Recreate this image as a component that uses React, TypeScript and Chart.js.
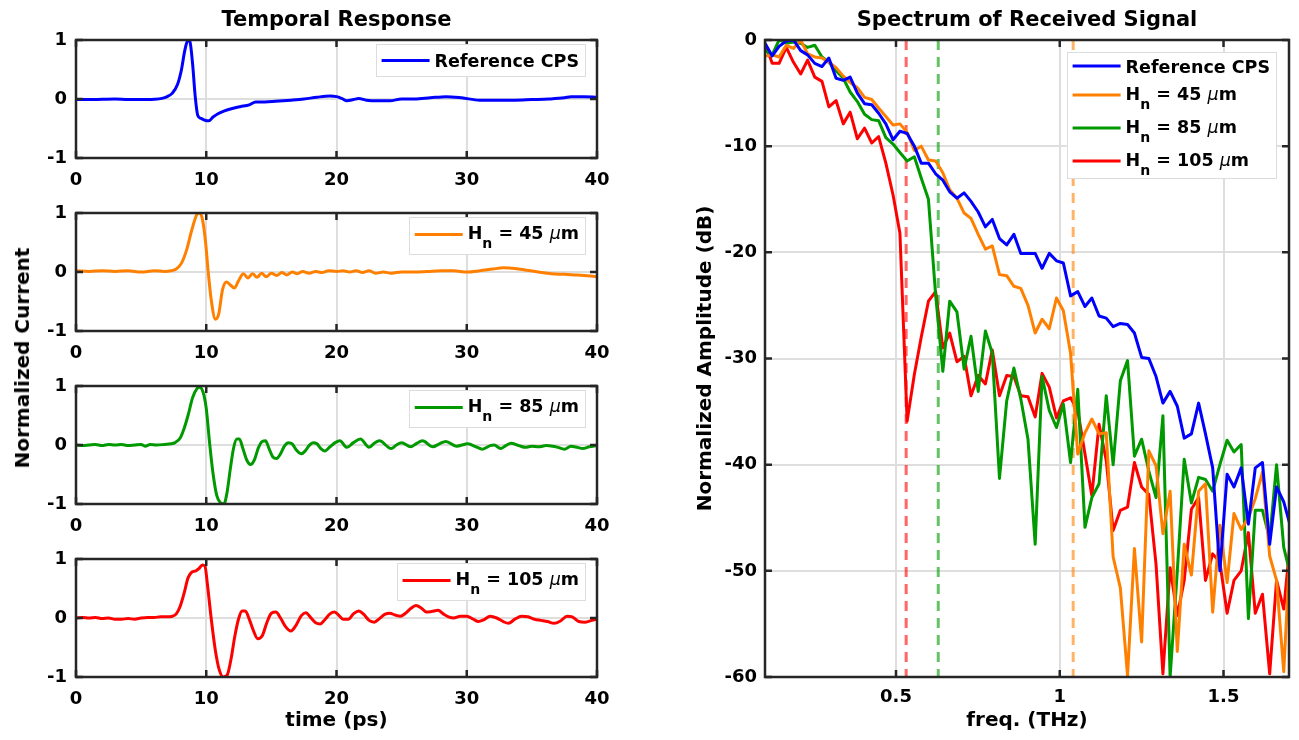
import React, { useEffect, useRef } from 'react';
import { Chart, registerables } from 'chart.js';

Chart.register(...registerables);

const FONT = '"DejaVu Sans", "Liberation Sans", Arial, sans-serif';

// ---------------- Temporal response (time in ps, normalized current) ----------------
const refTime = [0, 1, 2, 3, 4, 5, 6, 6.6, 7.0, 7.4, 7.8, 8.1, 8.35, 8.6, 8.75, 8.95, 9.15, 9.35, 9.6, 9.9, 10.2, 10.5, 10.9, 11.4, 12, 12.6, 13.3, 13.8, 14.5, 15.3, 16.5, 17.5, 18.5, 19.5, 20, 20.4, 20.8, 21.3, 21.7, 22.3, 23.2, 24.1, 25, 26, 27.2, 28.4, 29.6, 31, 32.5, 33.7, 35, 36.3, 37.5, 38, 39, 40];
const refCurrent = [-0.01, -0.01, -0.005, 0, -0.01, -0.01, -0.005, 0.01, 0.04, 0.1, 0.25, 0.5, 0.82, 1.0, 0.97, 0.6, 0.05, -0.28, -0.33, -0.36, -0.37, -0.31, -0.25, -0.2, -0.16, -0.13, -0.1, -0.05, -0.05, -0.04, -0.02, 0.0, 0.03, 0.05, 0.04, 0.01, -0.03, -0.01, 0.01, -0.02, -0.03, -0.03, 0.0, 0.0, 0.02, 0.04, 0.02, -0.02, -0.02, -0.02, -0.01, 0.0, 0.02, 0.04, 0.04, 0.03];

const h45Time = [0, 1, 2, 3, 4, 5, 6, 6.8, 7.3, 7.7, 8.1, 8.5, 8.9, 9.3, 9.5, 9.7, 9.95, 10.15, 10.4, 10.7, 10.95, 11.25, 11.55, 11.85, 12.15, 12.5, 12.85, 13.2, 13.55, 13.9, 14.25, 14.6, 15, 15.4, 15.8, 16.2, 16.6, 17, 17.4, 17.9, 18.4, 18.9, 19.4, 20, 20.5, 21, 21.5, 22, 22.5, 23, 23.6, 24.2, 25, 26, 27, 28, 29, 30, 31, 32, 32.8, 33.7, 34.6, 35.5, 36.5, 37.5, 38.3, 39, 40];
const h45Current = [0.02, 0.01, 0.02, 0.01, 0.02, 0.0, 0.02, 0.01, 0.02, 0.05, 0.15, 0.38, 0.72, 0.98, 1.0, 0.9, 0.5, 0.0, -0.5, -0.8, -0.72, -0.3, -0.17, -0.22, -0.27, -0.14, -0.03, -0.1, -0.03, -0.09, -0.02, -0.08, -0.02, -0.06, -0.01, -0.05, 0.0, -0.03, 0.01, -0.02, 0.01, -0.01, 0.02, 0.01, 0.02, 0.0, 0.02, -0.01, 0.02, -0.02, 0.0, -0.02, 0.0, 0.0, 0.01, 0.02, 0.02, 0.0, 0.02, 0.05, 0.07, 0.06, 0.03, 0.0, -0.03, -0.04, -0.05, -0.06, -0.08];

const h85Time = [0, 0.5, 1, 1.5, 2, 2.5, 3, 3.5, 4, 4.5, 5, 5.3, 5.7, 6.2, 6.8, 7.3, 7.6, 8.0, 8.3, 8.6, 8.95, 9.3, 9.5, 9.75, 10.0, 10.25, 10.5, 10.8, 11.1, 11.35, 11.6, 11.85, 12.1, 12.35, 12.55, 12.8, 13.1, 13.4, 13.7, 14.0, 14.3, 14.55, 14.8, 15.1, 15.4, 15.7, 16.0, 16.3, 16.6, 16.9, 17.3, 17.6, 17.9, 18.2, 18.5, 18.8, 19.1, 19.5, 19.9, 20.26, 20.8, 21.3, 21.84, 22.5, 22.9, 23.3, 24.2, 24.6, 25.0, 25.7, 26.1, 26.6, 27.4, 27.9, 28.4, 29.2, 30.1, 30.7, 31.2, 31.8, 32.1, 32.6, 33.0, 33.4, 34.0, 34.5, 35.0, 35.5, 36.1, 36.6, 37.0, 37.5, 38.0, 38.5, 38.9, 39.4, 40];
const h85Current = [0.0, -0.01, 0.0, 0.01, -0.01, 0.01, 0.0, 0.01, -0.01, 0.0, 0.01, -0.02, 0.01, 0.0, 0.01, 0.02, 0.04, 0.12, 0.28, 0.5, 0.8, 0.96, 0.98, 0.9, 0.62, 0.05, -0.45, -0.85, -0.98, -1.0, -0.8, -0.4, -0.05, 0.1, 0.1, -0.05, -0.25, -0.33, -0.25, -0.05, 0.06, 0.07, -0.05, -0.2, -0.23, -0.15, -0.02, 0.04, 0.02, -0.08, -0.15, -0.1, -0.01, 0.04, 0.02, -0.06, -0.1, -0.03, 0.04, 0.07, -0.04, 0.04, 0.1, -0.04, 0.03, 0.07, -0.06, 0.0, 0.04, -0.03, 0.02, 0.07, -0.03, 0.02, 0.06, -0.02, 0.02, -0.03, -0.07, -0.01, 0.0, -0.06, -0.01, 0.03, -0.01, -0.04, -0.02, -0.03, -0.01, -0.02, -0.04, -0.07, -0.02, -0.04, -0.06, -0.03, -0.01];

const h105Time = [0, 0.5, 1, 1.5, 2, 2.5, 3, 3.5, 4, 4.5, 5, 5.5, 6, 6.5, 7, 7.4, 7.7, 8.0, 8.3, 8.6, 8.9, 9.2, 9.45, 9.7, 9.9, 10.1, 10.35, 10.7, 11.0, 11.3, 11.6, 11.9, 12.2, 12.5, 12.75, 13.0, 13.3, 13.6, 13.95, 14.3, 14.65, 15.0, 15.35, 15.7, 16.1, 16.5, 16.9, 17.3, 17.65, 18.0, 18.4, 18.75, 19.1, 19.5, 19.85, 20.2, 20.5, 20.9, 21.3, 21.7, 22.1, 22.5, 22.9, 23.3, 23.7, 24.1, 24.5, 24.9, 25.3, 25.7, 26.1, 26.5, 26.9, 27.3, 27.8, 28.2, 28.6, 29.0, 29.5, 30.0, 30.5, 30.9, 31.3, 31.8, 32.3, 32.8, 33.2, 33.7, 34.2, 34.7, 35.2, 35.7, 36.2, 36.7, 37.2, 37.7, 38.1, 38.6, 39.1, 39.6, 40];
const h105Current = [0.0, 0.01, 0.0, 0.01, -0.01, 0.0, -0.02, -0.02, -0.01, -0.02, 0.0, 0.01, 0.01, 0.02, 0.02, 0.03, 0.07, 0.2, 0.42, 0.68, 0.78, 0.8, 0.84, 0.9, 0.88, 0.55, 0.05, -0.55, -0.88, -1.0, -0.97, -0.7, -0.3, 0.0, 0.12, 0.12, -0.02, -0.2, -0.35, -0.3, -0.08, 0.08, 0.1, 0.0, -0.15, -0.22, -0.12, 0.04, 0.09, 0.01, -0.08, -0.1, -0.03, 0.07, 0.1, 0.04, -0.02, -0.02, 0.07, 0.12, 0.06, -0.04, -0.07, -0.01, 0.06, 0.08, 0.05, 0.03, 0.08, 0.16, 0.21, 0.17, 0.1, 0.11, 0.13, 0.07, 0.02, 0.0, 0.03, 0.03, -0.02, -0.06, -0.03, 0.03, 0.0, -0.06, -0.09, -0.02, 0.03, 0.02, -0.02, -0.04, -0.06, -0.09, -0.05, 0.03, 0.02, -0.06, -0.07, -0.04, -0.02];

const timeRange = [0, 40];
const timeTicks = [0, 10, 20, 30, 40];
const currentRange = [-1, 1];
const currentTicks = [-1, 0, 1];

// ---------------- Spectrum (freq in THz, amplitude in dB) ----------------
const freqTHz = [0.100, 0.122, 0.143, 0.165, 0.187, 0.209, 0.230, 0.252, 0.274, 0.295, 0.317, 0.339, 0.360, 0.382, 0.404, 0.426, 0.447, 0.469, 0.491, 0.512, 0.534, 0.556, 0.577, 0.599, 0.621, 0.643, 0.664, 0.686, 0.708, 0.729, 0.751, 0.773, 0.794, 0.816, 0.838, 0.860, 0.881, 0.903, 0.925, 0.946, 0.968, 0.990, 1.011, 1.033, 1.055, 1.077, 1.098, 1.120, 1.142, 1.163, 1.185, 1.207, 1.228, 1.250, 1.272, 1.294, 1.315, 1.337, 1.359, 1.380, 1.402, 1.424, 1.445, 1.467, 1.489, 1.511, 1.532, 1.554, 1.576, 1.597, 1.619, 1.641, 1.662, 1.684, 1.706];
const refSpectrum = [-0.3, -1.5, -0.6, -0.1, 0.0, -1.0, -1.4, -2.2, -2.5, -1.7, -3.6, -3.8, -3.5, -5.0, -6.0, -6.1, -6.9, -7.9, -9.4, -8.6, -8.8, -10.0, -11.6, -11.6, -12.6, -13.2, -14.3, -14.9, -14.4, -15.2, -16.2, -17.6, -16.9, -18.7, -19.3, -18.3, -20.1, -20.1, -20.1, -21.5, -20.1, -20.8, -21.0, -24.1, -23.7, -25.1, -24.3, -26.0, -26.2, -27.0, -26.7, -26.8, -27.6, -29.9, -30.0, -31.7, -34.2, -33.1, -34.5, -37.5, -37.1, -34.2, -37.1, -40.3, -50.0, -40.9, -42.1, -40.3, -45.6, -40.3, -39.8, -47.5, -42.1, -43.5, -46.0];
const h45Spectrum = [-1.5, -1.4, -1.6, -0.5, -0.8, 0.0, -1.3, -1.6, -1.7, -2.1, -2.6, -3.4, -4.0, -4.5, -5.4, -5.6, -6.4, -7.2, -8.0, -7.9, -8.7, -10.4, -10.0, -11.3, -11.4, -12.5, -14.1, -14.9, -16.3, -16.8, -18.3, -19.7, -19.4, -22.1, -22.2, -23.2, -23.4, -25.0, -27.6, -26.3, -27.2, -24.3, -25.5, -29.5, -39.0, -37.0, -35.7, -37.1, -37.0, -48.7, -51.6, -59.9, -47.9, -56.7, -38.7, -40.1, -46.5, -42.5, -57.6, -47.5, -50.4, -42.5, -41.8, -53.9, -45.7, -51.1, -44.6, -46.1, -45.0, -43.2, -40.7, -48.6, -50.9, -59.5, -46.2];
const h85Spectrum = [-1.0, -1.4, 0.0, -0.3, -0.2, -0.3, -0.7, -0.5, -1.6, -2.1, -2.9, -3.6, -4.9, -5.8, -7.0, -7.5, -7.6, -9.2, -9.8, -10.6, -11.4, -11.0, -13.0, -15.0, -24.0, -31.2, -24.6, -25.6, -31.0, -27.9, -33.1, -27.4, -29.5, -41.3, -34.0, -30.9, -33.8, -37.6, -47.5, -31.7, -34.9, -36.5, -34.3, -39.8, -32.9, -45.9, -43.1, -41.8, -33.5, -40.0, -32.1, -30.2, -39.2, -37.6, -40.6, -43.1, -35.4, -60.0, -50.0, -39.5, -43.6, -41.2, -41.4, -42.5, -40.0, -37.7, -38.8, -38.1, -54.5, -44.3, -44.3, -47.0, -40.0, -47.8, -50.6];
const h105Spectrum = [-0.3, -2.2, -2.2, -0.7, -2.1, -3.2, -1.9, -3.5, -3.9, -6.3, -5.7, -7.9, -6.8, -9.3, -8.3, -9.7, -9.1, -11.6, -14.6, -18.2, -35.9, -31.5, -28.0, -24.6, -23.7, -29.0, -27.6, -30.3, -29.8, -33.5, -31.6, -32.4, -29.2, -33.5, -31.6, -31.7, -33.5, -33.6, -35.5, -31.4, -32.7, -35.6, -34.0, -33.7, -34.9, -39.0, -42.9, -36.2, -39.6, -46.2, -44.3, -44.0, -39.8, -42.1, -42.8, -49.4, -59.7, -49.7, -54.2, -50.9, -44.2, -43.1, -50.9, -48.4, -49.2, -54.0, -50.9, -50.0, -46.4, -54.0, -52.2, -59.7, -50.9, -53.6, -46.5];
// cut-off frequencies (dashed markers): 105 um, 85 um, 45 um
const cutoffFreqs = [0.531, 0.629, 1.041];

const freqRange = [0.1, 1.7];
const freqTicks = [0.5, 1, 1.5];
const dbRange = [-60, 0];
const dbTicks = [-60, -50, -40, -30, -20, -10, 0];

// ---------------- styles ----------------
const BLUE = '#0000ff';
const ORANGE = '#ff8000';
const GREEN = '#009900';
const RED = '#ff0000';
const CUTOFF_COLORS = ['rgba(255,0,0,0.6)', 'rgba(0,153,0,0.6)', 'rgba(255,128,0,0.6)'];
const GRID = '#dedede';
const AXIS = '#262626';

type Part = { t: string; s?: 'sub' | 'it' };
type Row = { color: string; parts: Part[] };

const hLabel = (v: string): Part[] => [{ t: 'H' }, { t: 'n', s: 'sub' }, { t: ` = ${v} ` }, { t: 'μ', s: 'it' }, { t: 'm' }];
const ROW_REF: Row = { color: BLUE, parts: [{ t: 'Reference CPS' }] };
const ROW_45: Row = { color: ORANGE, parts: hLabel('45') };
const ROW_85: Row = { color: GREEN, parts: hLabel('85') };
const ROW_105: Row = { color: RED, parts: hLabel('105') };

const LEG_SIZE = 17.5;

function partFont(p: Part, size: number) {
  if (p.s === 'sub') return `bold ${size * 0.8}px ${FONT}`;
  if (p.s === 'it') return `italic ${size}px ${FONT}`;
  return `bold ${size}px ${FONT}`;
}

function drawLegend(ctx: CanvasRenderingContext2D, area: any, rows: Row[], cfg: { right: number; top: number; extra: number }) {
  const size = LEG_SIZE;
  ctx.save();
  const widths = rows.map((r) =>
    r.parts.reduce((w, p) => {
      ctx.font = partFont(p, size);
      return w + ctx.measureText(p.t).width;
    }, 0)
  );
  const textW = Math.max(...widths);
  const padL = 6, lineLen = 48, gap = 5, padR = 7;
  const boxW = padL + lineLen + gap + textW + padR;
  const right = area.right - cfg.right;
  const left = right - boxW;
  const top = area.top + cfg.top;
  let y = top + cfg.extra;
  const centers: { c: number; sub: boolean }[] = [];
  rows.forEach((r) => {
    const sub = r.parts.some((p) => p.s === 'sub');
    y += sub ? 15 : 14;
    centers.push({ c: y, sub });
    y += sub ? 18 : 14;
  });
  const bottom = y + cfg.extra;
  ctx.fillStyle = '#ffffff';
  ctx.fillRect(left, top, boxW, bottom - top);
  ctx.strokeStyle = '#dcdcdc';
  ctx.lineWidth = 1;
  ctx.strokeRect(Math.round(left) + 0.5, Math.round(top) + 0.5, Math.round(boxW) - 1, Math.round(bottom - top) - 1);
  rows.forEach((r, i) => {
    const { c, sub } = centers[i];
    ctx.strokeStyle = r.color;
    ctx.lineWidth = 3;
    ctx.beginPath();
    ctx.moveTo(left + padL, c);
    ctx.lineTo(left + padL + lineLen, c);
    ctx.stroke();
    let x = left + padL + lineLen + gap;
    const base = c + (sub ? 4.5 : 6.5);
    ctx.fillStyle = '#000000';
    ctx.textAlign = 'left';
    ctx.textBaseline = 'alphabetic';
    r.parts.forEach((p) => {
      ctx.font = partFont(p, size);
      ctx.fillText(p.t, x, p.s === 'sub' ? base + 9 : base);
      x += ctx.measureText(p.t).width;
    });
  });
  ctx.restore();
}

function matlabAxes(rows: Row[], legendCfg: { right: number; top: number; extra: number }) {
  return {
    id: 'matlabAxes',
    afterDatasetsDraw(chart: any) {
      const { ctx, chartArea: a, scales } = chart;
      const L = 7;
      ctx.save();
      ctx.strokeStyle = AXIS;
      ctx.lineWidth = 2.5;
      ctx.beginPath();
      for (const t of scales.x.ticks) {
        const px = scales.x.getPixelForValue(t.value);
        ctx.moveTo(px, a.bottom);
        ctx.lineTo(px, a.bottom - L);
        ctx.moveTo(px, a.top);
        ctx.lineTo(px, a.top + L);
      }
      for (const t of scales.y.ticks) {
        const py = scales.y.getPixelForValue(t.value);
        ctx.moveTo(a.left, py);
        ctx.lineTo(a.left + L, py);
        ctx.moveTo(a.right, py);
        ctx.lineTo(a.right - L, py);
      }
      ctx.stroke();
      ctx.strokeRect(a.left, a.top, a.right - a.left, a.bottom - a.top);
      ctx.restore();
    },
    afterDraw(chart: any) {
      drawLegend(chart.ctx, chart.chartArea, rows, legendCfg);
    },
  };
}

const tickFont = { family: FONT, size: 18, weight: 'bold' as const };
const labelFont = { family: FONT, size: 20, weight: 'bold' as const };
const titleFont = { family: FONT, size: 21, weight: 'bold' as const, lineHeight: 1 };

function toPoints(xs: number[], ys: number[]) {
  return xs.map((x, i) => ({ x, y: ys[i] }));
}

// Canvas placement (page pixels)
const LEFT_CANVAS = [
  { top: 2, height: 186 },
  { top: 193, height: 168 },
  { top: 366, height: 168 },
  { top: 539, height: 201 },
];
const LEFT_W = 623;
const RIGHT_CANVAS = { left: 660, top: 2, width: 639, height: 738 };

function temporalConfig(
  xs: number[],
  ys: number[],
  color: string,
  row: Row,
  opt: { title?: string; xTitle?: string; xAxisH: number; padTop: number }
): any {
  return {
    type: 'line',
    data: {
      datasets: [
        {
          data: toPoints(xs, ys),
          borderColor: color,
          borderWidth: 3,
          pointRadius: 0,
          cubicInterpolationMode: 'monotone',
          fill: false,
          borderJoinStyle: 'round',
          borderCapStyle: 'round',
        },
      ],
    },
    options: {
      responsive: false,
      animation: false,
      devicePixelRatio: 1,
      events: [],
      layout: { padding: { left: 0, right: 26, top: opt.padTop, bottom: 0 } },
      plugins: {
        legend: { display: false },
        tooltip: { enabled: false },
        title: opt.title
          ? { display: true, text: opt.title, fullSize: false, font: titleFont, color: '#000', padding: { top: 8.5, bottom: 8.5 } }
          : { display: false },
      },
      scales: {
        x: {
          type: 'linear',
          min: timeRange[0],
          max: timeRange[1],
          afterBuildTicks: (s: any) => {
            s.ticks = timeTicks.map((v) => ({ value: v }));
          },
          afterFit: (s: any) => {
            s.height = opt.xAxisH;
          },
          grid: { color: GRID, lineWidth: 2, drawTicks: false },
          border: { display: false },
          ticks: { font: tickFont, color: '#000', padding: 12, maxRotation: 0, autoSkip: false, callback: (v: any) => String(v) },
          title: opt.xTitle
            ? { display: true, text: opt.xTitle, font: labelFont, color: '#000', padding: { top: 0, bottom: 7 } }
            : { display: false },
        },
        y: {
          type: 'linear',
          min: currentRange[0],
          max: currentRange[1],
          afterBuildTicks: (s: any) => {
            s.ticks = currentTicks.map((v) => ({ value: v }));
          },
          afterFit: (s: any) => {
            s.width = 76;
          },
          grid: { color: GRID, lineWidth: 2, drawTicks: false },
          border: { display: false },
          ticks: { font: tickFont, color: '#000', padding: 9, autoSkip: false, callback: (v: any) => String(v) },
        },
      },
    },
    plugins: [matlabAxes([row], { right: 11, top: 4, extra: 2.5 })],
  };
}

function spectrumConfig(): any {
  const series = [
    { ys: refSpectrum, color: BLUE },
    { ys: h45Spectrum, color: ORANGE },
    { ys: h85Spectrum, color: GREEN },
    { ys: h105Spectrum, color: RED },
  ];
  const datasets: any[] = series.map((s) => ({
    data: toPoints(freqTHz, s.ys),
    borderColor: s.color,
    borderWidth: 3,
    pointRadius: 0,
    tension: 0,
    fill: false,
    borderJoinStyle: 'round',
  }));
  cutoffFreqs.forEach((f, i) => {
    datasets.push({
      data: [
        { x: f, y: dbRange[1] },
        { x: f, y: dbRange[0] },
      ],
      borderColor: CUTOFF_COLORS[i],
      borderWidth: 3,
      borderDash: [10, 7],
      pointRadius: 0,
      fill: false,
    });
  });
  return {
    type: 'line',
    data: { datasets },
    options: {
      responsive: false,
      animation: false,
      devicePixelRatio: 1,
      events: [],
      layout: { padding: { left: 0, right: 10, top: 0, bottom: 0 } },
      plugins: {
        legend: { display: false },
        tooltip: { enabled: false },
        title: {
          display: true,
          text: 'Spectrum of Received Signal',
          fullSize: false,
          font: titleFont,
          color: '#000',
          padding: { top: 8.5, bottom: 8.5 },
        },
      },
      scales: {
        x: {
          type: 'linear',
          min: freqRange[0],
          max: freqRange[1],
          afterBuildTicks: (s: any) => {
            s.ticks = freqTicks.map((v) => ({ value: v }));
          },
          afterFit: (s: any) => {
            s.height = 63;
          },
          grid: { color: GRID, lineWidth: 2, drawTicks: false },
          border: { display: false },
          ticks: { font: tickFont, color: '#000', padding: 10, maxRotation: 0, autoSkip: false, callback: (v: any) => String(v) },
          title: { display: true, text: 'freq. (THz)', font: labelFont, color: '#000', padding: { top: 0, bottom: 7 } },
        },
        y: {
          type: 'linear',
          min: dbRange[0],
          max: dbRange[1],
          afterBuildTicks: (s: any) => {
            s.ticks = dbTicks.map((v) => ({ value: v }));
          },
          afterFit: (s: any) => {
            s.width = 105;
          },
          grid: { color: GRID, lineWidth: 2, drawTicks: false },
          border: { display: false },
          ticks: { font: tickFont, color: '#000', padding: 8, autoSkip: false, callback: (v: any) => String(v) },
          title: { display: true, text: 'Normalized Amplitude (dB)', font: labelFont, color: '#000', padding: { top: 34, bottom: 0 } },
        },
      },
    },
    plugins: [matlabAxes([ROW_REF, ROW_45, ROW_85, ROW_105], { right: 12, top: 12, extra: 0 })],
  };
}

export default function App() {
  const c0 = useRef<HTMLCanvasElement>(null);
  const c1 = useRef<HTMLCanvasElement>(null);
  const c2 = useRef<HTMLCanvasElement>(null);
  const c3 = useRef<HTMLCanvasElement>(null);
  const c4 = useRef<HTMLCanvasElement>(null);

  useEffect(() => {
    const charts: Chart[] = [];
    const left = [
      { ref: c0, xs: refTime, ys: refCurrent, color: BLUE, row: ROW_REF, opt: { title: 'Temporal Response', xAxisH: 30, padTop: 0 } },
      { ref: c1, xs: h45Time, ys: h45Current, color: ORANGE, row: ROW_45, opt: { xAxisH: 30, padTop: 20 } },
      { ref: c2, xs: h85Time, ys: h85Current, color: GREEN, row: ROW_85, opt: { xAxisH: 30, padTop: 20 } },
      { ref: c3, xs: h105Time, ys: h105Current, color: RED, row: ROW_105, opt: { xTitle: 'time (ps)', xAxisH: 63, padTop: 20 } },
    ];
    left.forEach((l) => {
      if (l.ref.current) charts.push(new Chart(l.ref.current, temporalConfig(l.xs, l.ys, l.color, l.row, l.opt)));
    });
    if (c4.current) charts.push(new Chart(c4.current, spectrumConfig()));
    return () => charts.forEach((c) => c.destroy());
  }, []);

  const leftRefs = [c0, c1, c2, c3];
  return (
    <div style={{ position: 'absolute', left: 0, top: 0, width: 1299, height: 740, background: '#ffffff', overflow: 'hidden' }}>
      {leftRefs.map((r, i) => (
        <canvas
          key={i}
          ref={r}
          width={LEFT_W}
          height={LEFT_CANVAS[i].height}
          style={{ position: 'absolute', left: 0, top: LEFT_CANVAS[i].top, width: LEFT_W, height: LEFT_CANVAS[i].height }}
        />
      ))}
      <canvas
        ref={c4}
        width={RIGHT_CANVAS.width}
        height={RIGHT_CANVAS.height}
        style={{ position: 'absolute', left: RIGHT_CANVAS.left, top: RIGHT_CANVAS.top, width: RIGHT_CANVAS.width, height: RIGHT_CANVAS.height }}
      />
      <div
        style={{
          position: 'absolute',
          left: 22,
          top: 358,
          transform: 'translate(-50%, -50%) rotate(-90deg)',
          whiteSpace: 'nowrap',
          fontFamily: FONT,
          fontWeight: 'bold',
          fontSize: 20,
          color: '#000',
          lineHeight: 1,
        }}
      >
        Normalized Current
      </div>
    </div>
  );
}
